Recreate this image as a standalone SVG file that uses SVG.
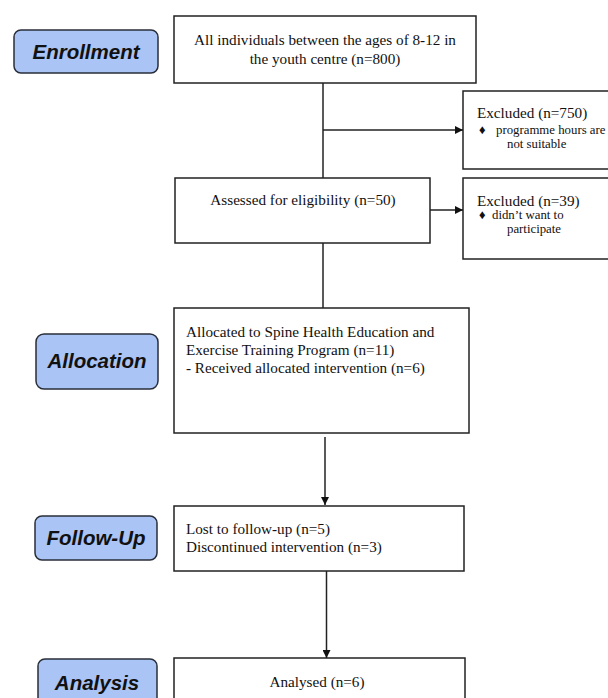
<svg xmlns="http://www.w3.org/2000/svg" width="608" height="698" viewBox="0 0 608 698">
<style>
.stage rect{fill:#a9c4f5;stroke:#2a2e38;stroke-width:1.5}
.stage text{font-family:"Liberation Sans",Arial,sans-serif;font-weight:bold;font-style:italic;font-size:20.5px;fill:#111;text-anchor:middle}
.box{fill:#fff;stroke:#222;stroke-width:1.5}
.t{font-family:"Liberation Serif","Times New Roman",serif;font-size:15.2px;fill:#111}
.s{font-family:"Liberation Serif","Times New Roman",serif;font-size:12.8px;fill:#111}
.c{text-anchor:middle}
.conn line{stroke:#222;stroke-width:1.5;fill:none}
</style>
<defs>
<marker id="ah" viewBox="0 0 10 10" refX="10" refY="5" markerWidth="8" markerHeight="8" markerUnits="userSpaceOnUse" orient="auto">
<path d="M0,0 L10,5 L0,10 z" fill="#111"/>
</marker>
</defs>
<rect width="608" height="698" fill="#fff"/>
<g id="label-enrollment" class="stage"><rect x="14" y="30" width="144" height="43" rx="7"/><text x="86" y="59">Enrollment</text></g>
<g id="label-allocation" class="stage"><rect x="36" y="334" width="122" height="55" rx="8"/><text x="97" y="368">Allocation</text></g>
<g id="label-followup" class="stage"><rect x="35" y="516" width="122" height="44" rx="7"/><text x="96" y="545">Follow-Up</text></g>
<g id="label-analysis" class="stage"><rect x="38" y="659" width="119" height="50" rx="7"/><text x="97" y="690">Analysis</text></g>

<g id="node-all"><rect class="box" x="174" y="16" width="302" height="67"/>
<text class="t c" x="325" y="45">All individuals between the ages of 8-12 in</text>
<text class="t c" x="325" y="64">the youth centre (n=800)</text></g>

<g id="node-excl1"><rect class="box" x="463" y="91" width="150" height="78"/>
<text class="t" x="477" y="118">Excluded (n=750)</text>
<text class="s" x="479" y="134">♦</text>
<text class="s" x="496" y="134">programme hours are</text>
<text class="s" x="507" y="148">not suitable</text></g>

<g id="node-assessed"><rect class="box" x="175" y="178" width="255" height="65"/>
<text class="t c" x="303" y="205">Assessed for eligibility (n=50)</text></g>

<g id="node-excl2"><rect class="box" x="463" y="178" width="150" height="81"/>
<text class="t" x="477" y="206">Excluded (n=39)</text>
<text class="s" x="479" y="219">♦</text>
<text class="s" x="492" y="219">didn’t want to</text>
<text class="s" x="507" y="233">participate</text></g>

<g id="node-allocated"><rect class="box" x="174" y="308" width="295" height="125"/>
<text class="t" x="186" y="337">Allocated to Spine Health Education and</text>
<text class="t" x="186" y="355">Exercise Training Program (n=11)</text>
<text class="t" x="186" y="373">- Received allocated intervention (n=6)</text></g>

<g id="node-followup"><rect class="box" x="174" y="506" width="290" height="65"/>
<text class="t" x="186" y="534">Lost to follow-up (n=5)</text>
<text class="t" x="186" y="552">Discontinued intervention (n=3)</text></g>

<g id="node-analysed"><rect class="box" x="174" y="658" width="291" height="50"/>
<text class="t c" x="317" y="687">Analysed (n=6)</text></g>

<g id="connectors" class="conn">
<line x1="323" y1="83" x2="323" y2="178"/>
<line x1="323" y1="130" x2="463" y2="130" marker-end="url(#ah)"/>
<line x1="430" y1="210" x2="463" y2="210" marker-end="url(#ah)"/>
<line x1="323" y1="243" x2="323" y2="308"/>
<line x1="325" y1="437" x2="325" y2="505" marker-end="url(#ah)"/>
<line x1="326.5" y1="571" x2="326.5" y2="658" marker-end="url(#ah)"/>
</g>
</svg>
